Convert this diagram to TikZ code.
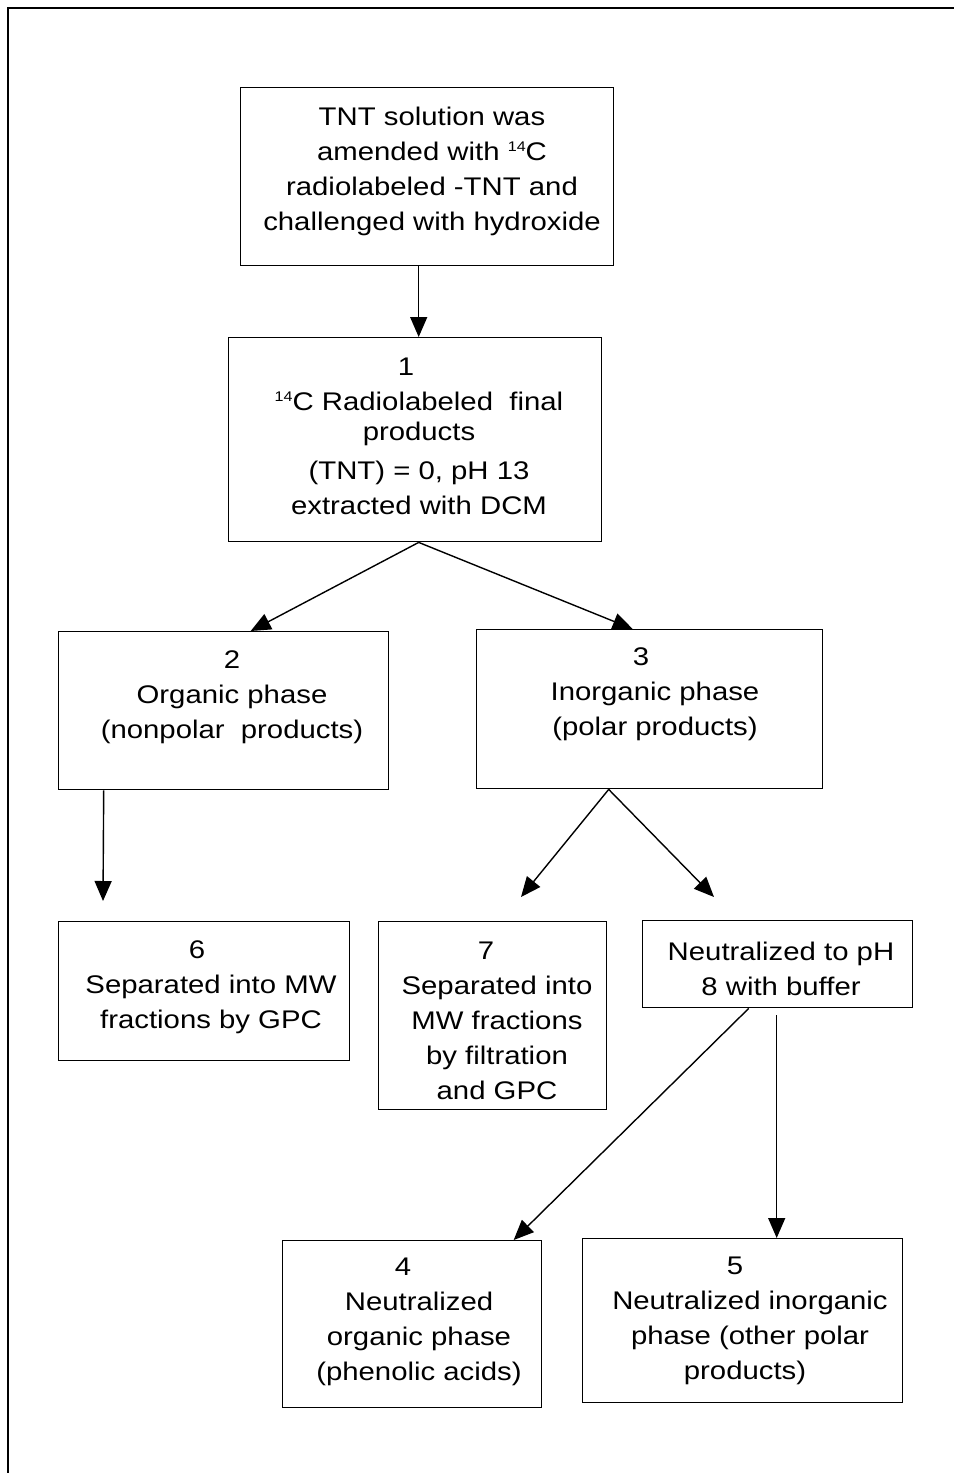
\documentclass[tikz,border=0pt]{standalone}
\usepackage{fontspec}
\setmainfont{Liberation Sans}[FakeStretch=1.15]
\usetikzlibrary{arrows.meta}
\newcommand\isot{\raisebox{9pt}{\fontsize{14}{14}\selectfont 14}}
\begin{document}
\begin{tikzpicture}[x=1pt,y=-1pt,
  box/.style={draw, line width=1.4pt, inner sep=0pt, anchor=north west},
  txt/.style={align=center, inner sep=0pt, font=\fontsize{25.5}{35}\selectfont},
  arr/.style={line width=1.4pt, -{Triangle[length=20pt,width=17pt]}}]
\useasboundingbox (0,0) rectangle (954,1473);
\draw[line width=1.6pt] (8,1473) -- (8,8) -- (954,8);

% boxes
\node[box, minimum width=373pt, minimum height=178pt] (b0) at (240,87) {};
\node[box, minimum width=373pt, minimum height=204pt] (b1) at (228,337) {};
\node[box, minimum width=330pt, minimum height=158pt] (b2) at (58,631) {};
\node[box, minimum width=346pt, minimum height=159pt] (b3) at (476,629) {};
\node[box, minimum width=291pt, minimum height=139pt] (b6) at (58,921) {};
\node[box, minimum width=228pt, minimum height=188pt] (b7) at (378,921) {};
\node[box, minimum width=270pt, minimum height=87pt] (bN) at (642,920) {};
\node[box, minimum width=259pt, minimum height=167pt] (b4) at (282,1240) {};
\node[box, minimum width=320pt, minimum height=164pt] (b5) at (582,1238) {};

% texts
\node[txt] (t0) at (432,171) {TNT solution was\\amended with \isot C\\radiolabeled -TNT and\hspace*{28pt}\\challenged with hydroxide};
\node[txt] (t1) at (419,436) {1\hspace*{26pt}\\\isot C Radiolabeled\ \ final\\[-5pt]products\\[4pt](TNT) = 0, pH 13\\extracted with DCM};
\node[txt] (t2) at (232,697) {2\\Organic phase\\(nonpolar\ \ products)};
\node[txt] (t3) at (655,694) {3\hspace*{28pt}\\Inorganic phase\\(polar products)};
\node[txt] (t6) at (211,987) {6\hspace*{28pt}\\Separated into MW\\fractions by GPC};
\node[txt] (t7) at (497,1021) {7\hspace*{22pt}\\Separated into\\MW fractions\\by filtration\\and GPC};
\node[txt] (tN) at (781,969) {Neutralized to pH\\8 with buffer};
\node[txt] (t4) at (419,1322) {4\hspace*{32pt}\\Neutralized\\organic phase\\(phenolic acids)};
\node[txt] (t5) at (750,1321) {5\hspace*{30pt}\\Neutralized inorganic\\phase (other polar\\products)\hspace*{10pt}};

% free ends
\coordinate (c6) at (103,901);
\coordinate (c7) at (521,897);
\coordinate (cN) at (714,897);

% connectors
\draw[arr] ([xshift=-8.5pt]b0.south) -- ([xshift=3.5pt]b1.north);
\draw[arr] ([xshift=3.5pt]b1.south) -- ([xshift=27pt]b2.north);
\draw[arr] ([xshift=3.5pt]b1.south) -- ([xshift=-17pt]b3.north);
\draw[arr] ([xshift=-120pt]b2.south) -- (c6);
\draw[arr] ([xshift=-41pt]b3.south) -- (c7);
\draw[arr] ([xshift=-41pt]b3.south) -- (cN);
\draw[arr] ([xshift=-29pt]bN.south) -- ([xshift=101.5pt]b4.north);
\draw[arr] ([xshift=-1pt,yshift=-7pt]bN.south) -- ([xshift=34pt]b5.north);
\end{tikzpicture}
\end{document}
